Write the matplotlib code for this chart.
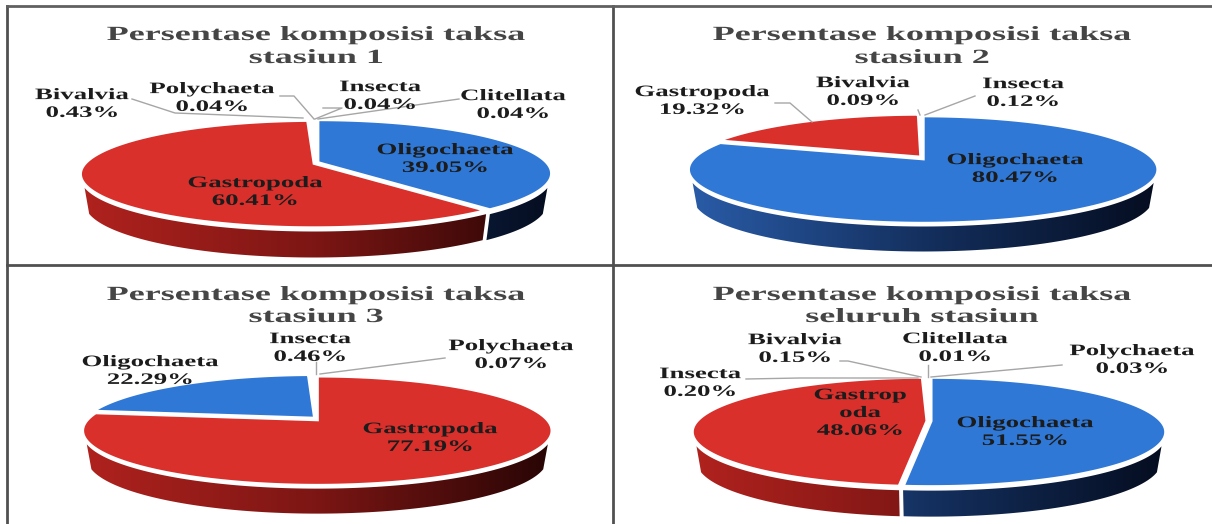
import matplotlib
matplotlib.use('Agg')
import matplotlib.pyplot as plt
import numpy as np
from matplotlib.colors import LinearSegmentedColormap
from matplotlib.patches import Polygon
from matplotlib.patheffects import AbstractPathEffect
from matplotlib.transforms import Affine2D

plt.rcParams['font.family'] = ['Liberation Serif', 'DejaVu Serif']

title_main = 'Persentase komposisi taksa'
subtitles = ['stasiun 1', 'stasiun 2', 'stasiun 3', 'seluruh stasiun']

# slices run clockwise from 12 o'clock
taxa_1 = ['Oligochaeta', 'Gastropoda', 'Bivalvia', 'Polychaeta', 'Insecta', 'Clitellata']
vals_1 = [39.05, 60.41, 0.43, 0.04, 0.04, 0.04]
taxa_2 = ['Oligochaeta', 'Gastropoda', 'Bivalvia', 'Insecta']
vals_2 = [80.47, 19.32, 0.09, 0.12]
taxa_3 = ['Gastropoda', 'Oligochaeta', 'Insecta', 'Polychaeta']
vals_3 = [77.19, 22.29, 0.46, 0.07]
taxa_4 = ['Oligochaeta', 'Gastropoda', 'Insecta', 'Bivalvia', 'Clitellata', 'Polychaeta']
vals_4 = [51.55, 48.06, 0.20, 0.15, 0.01, 0.03]

# hub x, hub y, half width, vertical scale, depth
pies = [(316, 163, 229, 51.6, 30),
        (922, 158, 230, 51.6, 29),
        (316, 419, 230, 52.5, 29),
        (929, 421, 230, 52.5, 30)]
title_pos = [(316, 35, 58), (922, 35, 58), (316, 295, 317), (922, 295, 317)]

# label centres, picture pixels
label_pos = [
    {'Bivalvia': (82, 104), 'Polychaeta': (212, 98), 'Insecta': (380, 96), 'Clitellata': (513, 105),
     'Oligochaeta': (445, 159), 'Gastropoda': (255, 192)},
    {'Gastropoda': (702, 101), 'Bivalvia': (863, 92), 'Insecta': (1023, 93), 'Oligochaeta': (1015, 169)},
    {'Oligochaeta': (150, 371), 'Insecta': (310, 348), 'Polychaeta': (511, 355), 'Gastropoda': (430, 438)},
    {'Insecta': (700, 383), 'Bivalvia': (795, 349), 'Clitellata': (955, 348), 'Polychaeta': (1132, 360),
     'Oligochaeta': (1025, 432), 'Gastropoda': (860, 413)},
]
leaders = [
    [(132, 99), (175, 113), (303, 118)], [(280, 96), (294, 96), (314, 119)],
    [(323, 108), (342, 108), (315, 119)], [(459, 99), (416, 105), (318, 119)],
    [(775, 103), (790, 103), (812, 122)], [(918, 110), (920, 115)], [(975, 96), (925, 115)],
    [(316, 362), (316, 374)], [(445, 358), (320, 374)],
    [(746, 379), (800, 378), (918, 378)], [(840, 361), (848, 361), (921, 377)],
    [(928, 365), (928, 377)], [(1062, 365), (931, 377)],
]

k = 0.2  # perspective of the tilted disc
reds = LinearSegmentedColormap.from_list('r', ['#b0221e', '#7c1614', '#280505'])
blues = LinearSegmentedColormap.from_list('b', ['#2a5ca8', '#14305f', '#050d20'])
face = {'Oligochaeta': '#2f78d6', 'Gastropoda': '#d9302c'}


class StretchX(AbstractPathEffect):
    # the reference text is squashed, widen each line about its middle
    def __init__(self, sx):
        super().__init__()
        self.sx = sx

    def draw_path(self, renderer, gc, tpath, affine, rgbFace=None):
        xs = tpath.vertices[:, 0]
        mid = (xs.min() + xs.max()) / 2
        stretch = Affine2D().translate(-mid, 0).scale(self.sx, 1).translate(mid, 0)
        renderer.draw_path(gc, tpath, stretch + affine, rgbFace)


def project(phi, hub):
    # phi in radians clockwise from top, returns picture pixels
    cx, cy, rx, ry, depth = hub
    d = 1 + k * np.cos(phi)
    return cx + rx * np.sin(phi) / d, cy - ry * np.cos(phi) / d


fig = plt.figure(figsize=(12.12, 5.24), dpi=100)
ax = fig.add_axes([0, 0, 1, 1])
ax.axis('off')

all_taxa = [taxa_1, taxa_2, taxa_3, taxa_4]
all_vals = [vals_1, vals_2, vals_3, vals_4]

for p in range(4):
    hub = pies[p]
    cx, cy, rx, ry, depth = hub
    edges = np.radians(np.concatenate([[0], np.cumsum(all_vals[p]) * 3.6]))
    wall_lo, wall_hi = np.radians(112), np.radians(248)

    # side wall first, gradient runs left to right over the whole disc
    for i, name in enumerate(all_taxa[p]):
        a, b = max(edges[i], wall_lo), min(edges[i + 1], wall_hi)
        if b <= a:
            continue
        mid = (edges[i] + edges[i + 1]) / 2
        dx = 2 * np.sin(mid)
        phi = np.linspace(a, b, 120)
        x, y = project(phi, hub)
        top = np.column_stack([x + dx, y + 4])
        low = np.column_stack([cx + (x - cx) * 0.98 + dx, y + depth])
        poly = Polygon(np.vstack([top, low[::-1]]), closed=True, transform=ax.transData, fc='none', ec='none')
        ax.add_patch(poly)
        cmap = blues if name == 'Oligochaeta' else reds
        im = ax.imshow(np.linspace(0, 1, 256)[None, :], extent=(cx - rx - 5, cx + rx + 5, cy + 115, cy - 20),
                       cmap=cmap, aspect='auto', zorder=2)
        im.set_clip_path(poly)

    # top face
    for i, name in enumerate(all_taxa[p]):
        mid = (edges[i] + edges[i + 1]) / 2
        dx, dy = 2 * np.sin(mid), -1 * np.cos(mid)
        phi = np.linspace(edges[i], edges[i + 1], 200)
        x, y = project(phi, hub)
        xs = np.concatenate([[cx], x]) + dx
        ys = np.concatenate([[cy], y]) + dy
        ax.fill(xs, ys, color=face.get(name, 'white'), ec='white', lw=2.2, zorder=3, joinstyle='miter')

    # title
    tx, ty1, ty2 = title_pos[p]
    for s, ty in [(title_main, ty1), (subtitles[p], ty2)]:
        ax.text(tx, ty, s, ha='center', va='center', fontsize=14.5, fontweight='bold', color='#454545',
                path_effects=[StretchX(1.79)])

    # data labels
    for name, v in zip(all_taxa[p], all_vals[p]):
        lab = name
        if p == 3 and name == 'Gastropoda':
            lab = 'Gastrop\noda'
        lx, ly = label_pos[p][name]
        ax.text(lx, ly, '%s\n%.2f%%' % (lab, v), ha='center', va='center', fontsize=11.5,
                fontweight='bold', color='#1c1c1c', linespacing=1.15, zorder=5,
                path_effects=[StretchX(1.68)])

for line in leaders:
    pts = np.array(line)
    ax.plot(pts[:, 0], pts[:, 1], color='#a6a6a6', lw=1, zorder=4)

# panel rules
ax.plot([7, 7], [6, 524], color='#505050', lw=2, zorder=6)
ax.plot([613, 613], [6, 524], color='#505050', lw=2, zorder=6)
ax.plot([7, 1212], [6, 6], color='#606060', lw=2, zorder=6)
ax.plot([7, 1212], [265, 265], color='#505050', lw=2, zorder=6)

ax.set_xlim(0, 1212)
ax.set_ylim(524, 0)
fig.savefig('out.png', dpi=100)
